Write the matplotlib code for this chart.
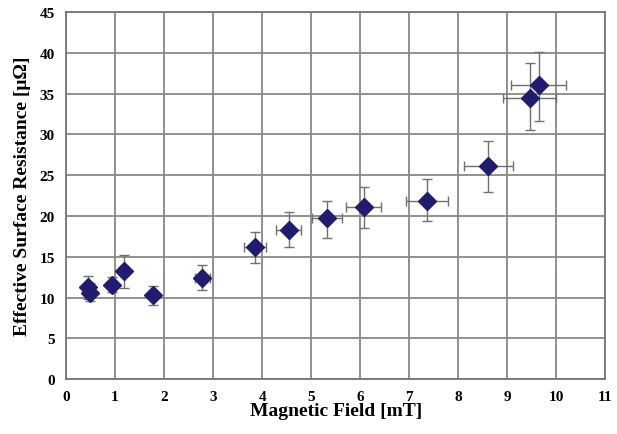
import matplotlib
matplotlib.use("Agg")
import matplotlib.pyplot as plt

field = [0.44, 0.49, 0.94, 1.19, 1.78, 2.78, 3.86, 4.54, 5.32, 6.07, 7.36, 8.61, 9.46, 9.64]
resistance = [11.3, 10.6, 11.6, 13.2, 10.3, 12.4, 16.2, 18.3, 19.7, 21.1, 21.9, 26.1, 34.5, 36.1]
res_err_low = [1.5, 1.0, 0.9, 2.0, 1.2, 1.5, 1.9, 2.1, 2.4, 2.6, 2.5, 3.2, 4.0, 4.4]
res_err_high = [1.4, 1.2, 0.9, 2.0, 1.1, 1.6, 1.8, 2.2, 2.2, 2.4, 2.6, 3.1, 4.2, 4.0]
field_err = [0.06, 0.06, 0.06, 0.07, 0.07, 0.15, 0.22, 0.26, 0.31, 0.36, 0.43, 0.5, 0.54, 0.56]

x_ticks = list(range(0, 12))
y_ticks = list(range(0, 50, 5))

plt.rcParams['font.family'] = ['Liberation Serif', 'DejaVu Serif']

fig = plt.figure(figsize=(6.17, 4.35), dpi=100)
ax = fig.add_axes([0.107, 0.126, 0.874, 0.844])

ax.errorbar(field, resistance, yerr=[res_err_low, res_err_high], xerr=field_err,
            fmt='D', color='#221c6e', markersize=8.8, ecolor='#707070',
            elinewidth=1.0, capsize=3.5, capthick=1.0, zorder=3)

ax.set_xlim(0, 11)
ax.set_ylim(0, 45)
ax.set_xticks(x_ticks)
ax.set_yticks(y_ticks)
ax.grid(True, color='#8c8782', linewidth=1.3, zorder=0)
ax.set_axisbelow(True)
for s in ax.spines.values():
    s.set_color('#7a7570')
    s.set_linewidth(1.3)
ax.tick_params(length=0, pad=8, labelsize=11)
for lbl in ax.get_xticklabels() + ax.get_yticklabels():
    lbl.set_fontweight('bold')

ax.set_xlabel('Magnetic Field [mT]', fontsize=14, fontweight='bold', labelpad=-1)
ax.set_ylabel('Effective Surface Resistance [μΩ]', fontsize=14, fontweight='bold', labelpad=6)

fig.savefig('out.png', dpi=100)
